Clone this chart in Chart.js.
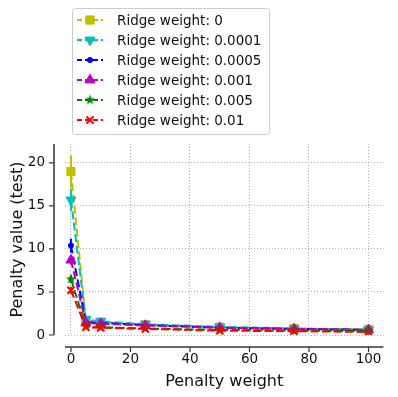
<!DOCTYPE html>
<html>
<head>
<meta charset="utf-8">
<script src="https://cdn.jsdelivr.net/npm/chart.js@4/dist/chart.umd.min.js"></script>
<style>
  html, body { margin: 0; padding: 0; background: #fff; }
  #wrap { width: 398px; height: 397px; }
</style>
</head>
<body>
<div id="wrap"><canvas id="chart" width="398" height="397"></canvas></div>
<script>
// Penalty weights on the x axis
const penaltyWeights = [0, 5, 10, 25, 50, 75, 100];

// Series labels (ridge weights)
const ridgeLabels = ['Ridge weight: 0', 'Ridge weight: 0.0001', 'Ridge weight: 0.0005',
  'Ridge weight: 0.001', 'Ridge weight: 0.005', 'Ridge weight: 0.01'];

// Mean penalty value (test) per ridge weight
const ridge0 = [19.0, 1.7, 1.5, 1.2, 0.9, 0.75, 0.65];
const ridge00001 = [15.7, 1.8, 1.6, 1.25, 0.95, 0.75, 0.6];
const ridge00005 = [10.4, 1.5, 1.4, 1.15, 0.85, 0.7, 0.6];
const ridge0001 = [8.7, 1.4, 1.3, 1.1, 0.85, 0.7, 0.6];
const ridge0005 = [6.5, 1.0, 0.9, 0.75, 0.6, 0.5, 0.45];
const ridge001 = [5.2, 0.9, 0.85, 0.7, 0.5, 0.45, 0.35];

// Error bar half-lengths
const err0 = [1.9, 0.2, 0.15, 0.1, 0.1, 0.1, 0.1];
const err00001 = [1.3, 0.2, 0.15, 0.1, 0.1, 0.1, 0.1];
const err00005 = [0.8, 0.15, 0.1, 0.1, 0.1, 0.1, 0.1];
const err0001 = [0.5, 0.15, 0.1, 0.1, 0.1, 0.1, 0.1];
const err0005 = [0.45, 0.1, 0.1, 0.1, 0.1, 0.1, 0.1];
const err001 = [0.4, 0.1, 0.1, 0.1, 0.1, 0.1, 0.1];

// Tick labels
const xTicks = [0, 20, 40, 60, 80, 100];
const yTicks = [0, 5, 10, 15, 20];

// Filled five-point star marker (matplotlib '*')
function makeStar(color, r) {
  const c = document.createElement('canvas');
  const s = Math.ceil(r * 2 + 2);
  c.width = s; c.height = s;
  const g = c.getContext('2d');
  g.fillStyle = color;
  g.beginPath();
  for (let i = 0; i < 10; i++) {
    const rad = i % 2 === 0 ? r : r * 0.42;
    const a = -Math.PI / 2 + i * Math.PI / 5;
    const px = s / 2 + rad * Math.cos(a), py = s / 2 + rad * Math.sin(a);
    if (i === 0) g.moveTo(px, py); else g.lineTo(px, py);
  }
  g.closePath();
  g.fill();
  return c;
}

const seriesValues = [ridge0, ridge00001, ridge00005, ridge0001, ridge0005, ridge001];
const seriesErrors = [err0, err00001, err00005, err0001, err0005, err001];
const colors = ['#bfbf00', '#00bfbf', '#0000ff', '#bf00bf', '#008000', '#ff0000'];
const markers = [
  { pointStyle: 'rect', pointRadius: 5.8, rotation: 0 },
  { pointStyle: 'triangle', pointRadius: 5.8, rotation: 180 },
  { pointStyle: 'circle', pointRadius: 2.6, rotation: 0 },
  { pointStyle: 'triangle', pointRadius: 5.8, rotation: 0 },
  { pointStyle: makeStar('#008000', 5.5), pointRadius: 5.5, rotation: 0 },
  { pointStyle: 'crossRot', pointRadius: 5, rotation: 0 }
];

const datasets = seriesValues.map((vals, i) => ({
  label: ridgeLabels[i],
  data: penaltyWeights.map((x, j) => ({ x: x, y: vals[j], e: seriesErrors[i][j] })),
  borderColor: colors[i],
  backgroundColor: colors[i],
  borderWidth: 2,
  borderDash: [8, 3.5],
  pointStyle: markers[i].pointStyle,
  pointRadius: markers[i].pointRadius,
  pointRotation: markers[i].rotation,
  pointBorderWidth: i === 5 ? 2 : 1,
  pointHoverRadius: markers[i].pointRadius,
  tension: 0,
  fill: false,
  order: seriesValues.length - i
}));

// Error bars, spines with offset and legend
const decorations = {
  id: 'decorations',
  beforeDatasetsDraw(chart) {
    const { ctx, scales: { x, y } } = chart;
    ctx.save();
    ctx.lineWidth = 2;
    chart.data.datasets.forEach((ds, i) => {
      ctx.strokeStyle = ds.borderColor;
      ds.data.forEach(p => {
        const px = x.getPixelForValue(p.x);
        ctx.beginPath();
        ctx.moveTo(px, y.getPixelForValue(p.y - p.e));
        ctx.lineTo(px, y.getPixelForValue(p.y + p.e));
        ctx.stroke();
      });
    });
    ctx.restore();
  },
  afterDraw(chart) {
    const { ctx, chartArea: a, scales: { x, y } } = chart;
    ctx.save();
    // spines
    const sx = a.left - 11, sy = a.bottom + 12;
    ctx.strokeStyle = '#666';
    ctx.lineWidth = 2;
    ctx.beginPath();
    ctx.moveTo(sx, a.top); ctx.lineTo(sx, a.bottom);
    ctx.moveTo(a.left, sy); ctx.lineTo(a.right, sy);
    ctx.stroke();
    ctx.strokeStyle = '#333';
    ctx.lineWidth = 1.2;
    ctx.beginPath();
    yTicks.forEach(v => { const py = y.getPixelForValue(v); ctx.moveTo(sx - 5, py); ctx.lineTo(sx, py); });
    xTicks.forEach(v => { const px = x.getPixelForValue(v); ctx.moveTo(px, sy); ctx.lineTo(px, sy + 5); });
    ctx.stroke();

    // legend
    ctx.fillStyle = 'rgba(255,255,255,0.8)';
    ctx.strokeStyle = '#cccccc';
    ctx.lineWidth = 1;
    ctx.beginPath();
    ctx.roundRect(72.5, 8.5, 197, 126, 3);
    ctx.fill();
    ctx.stroke();
    ctx.font = '13.5px "DejaVu Sans"';
    ctx.textBaseline = 'middle';
    chart.data.datasets.forEach((ds, i) => {
      const ry = 20 + i * 20;
      ctx.strokeStyle = ds.borderColor;
      ctx.lineWidth = 2;
      ctx.setLineDash([5, 3]);
      ctx.beginPath();
      ctx.moveTo(77, ry); ctx.lineTo(103, ry);
      ctx.stroke();
      ctx.setLineDash([]);
      ctx.fillStyle = ds.backgroundColor;
      ctx.lineWidth = ds.pointBorderWidth;
      Chart.helpers.drawPoint(ctx, {
        pointStyle: ds.pointStyle, radius: ds.pointRadius,
        rotation: ds.pointRotation, borderWidth: ds.pointBorderWidth
      }, 90, ry);
      ctx.fillStyle = '#111';
      ctx.fillText(ds.label, 117, ry + 1);
    });
    ctx.restore();
  }
};

Chart.defaults.font.family = '"DejaVu Sans", sans-serif';
Chart.defaults.color = '#111';

new Chart(document.getElementById('chart').getContext('2d'), {
  type: 'line',
  data: { datasets: datasets },
  options: {
    responsive: false,
    animation: false,
    layout: { padding: { top: 144, right: 13, left: 0, bottom: 0 } },
    plugins: { legend: { display: false }, tooltip: { enabled: false } },
    scales: {
      x: {
        type: 'linear',
        min: -2,
        max: 105,
        afterFit: s => { s.height = 62; },
        afterBuildTicks: s => { s.ticks = xTicks.map(v => ({ value: v })); },
        grid: { color: '#b0b0b0', lineWidth: 1, drawTicks: false },
        border: { display: false, dash: [1, 2] },
        ticks: { font: { size: 13.5 }, padding: 16, maxRotation: 0, color: '#111' },
        title: { display: true, text: 'Penalty weight', font: { size: 16 }, padding: { top: 4, bottom: 6 }, color: '#111' }
      },
      y: {
        type: 'linear',
        min: 0,
        max: 22.2,
        afterFit: s => { s.width = 65; },
        afterBuildTicks: s => { s.ticks = yTicks.map(v => ({ value: v })); },
        grid: { color: '#b0b0b0', lineWidth: 1, drawTicks: false },
        border: { display: false, dash: [1, 2] },
        ticks: { font: { size: 13.5 }, padding: 20, color: '#111' },
        title: { display: true, text: 'Penalty value (test)', font: { size: 16 }, padding: { top: 8, bottom: 4 }, color: '#111' }
      }
    }
  },
  plugins: [decorations]
});
</script>
</body>
</html>
